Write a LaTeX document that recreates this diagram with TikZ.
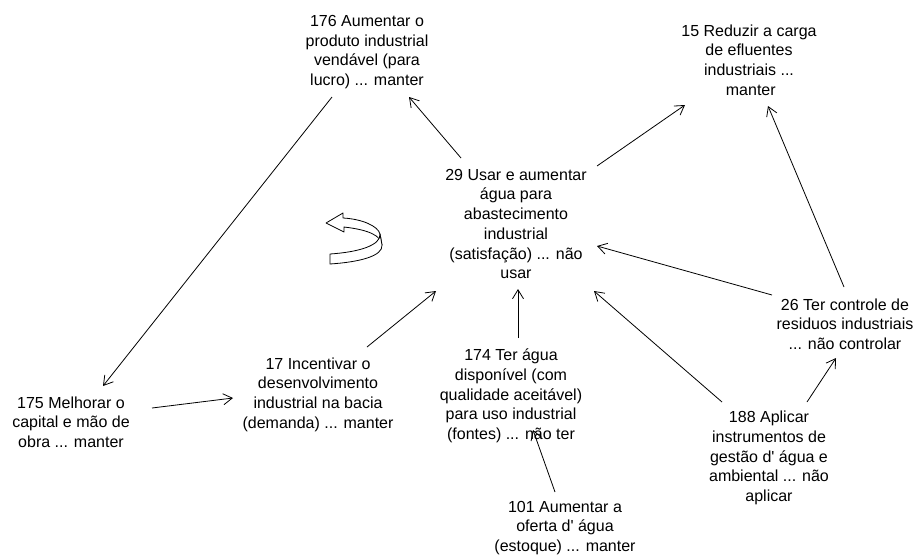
\documentclass[tikz,border=0pt]{standalone}
\usepackage{fontspec}
\newfontfamily\lsans{Liberation Sans}
\usetikzlibrary{arrows.meta}
\tikzset{
  lbl/.style={align=center, inner sep=0pt, font=\lsans\fontsize{16}{19.7}\selectfont},
  arr/.style={draw=black, line width=0.8pt, -{Straight Barb[length=9pt,width=11pt]}},
  loopsym/.style={draw=black, line width=0.8pt, fill=white, line join=round}
}
\begin{document}
\begin{tikzpicture}[x=1pt,y=-1pt]
\useasboundingbox (0,0) rectangle (920,555);
\fill[white] (0,0) rectangle (920,555);

\node[lbl] (n176) at (367,52) {176 Aumentar o\\produto industrial\\vendável (para\\lucro) ... manter};
\node[lbl] (n15) at (749,60) {15 Reduzir a carga\\de efluentes\\industriais ...\\\hphantom{i}manter};
\node[lbl] (n29) at (516,224) {29 Usar e aumentar\\água para\\abastecimento\\industrial\\(satisfação) ... não\\usar};
\node[lbl] (n175) at (71,422) {175 Melhorar o\\capital e mão de\\obra ... manter};
\node[lbl] (n17) at (318,394.5) {17 Incentivar o\\desenvolvimento\\industrial na bacia\\(demanda) ... manter};
\node[lbl] (n174) at (511,396) {174 Ter água\\disponível (com\\qualidade aceitável)\\para uso industrial\\(fontes) ... não ter};
\node[lbl] (n101) at (565,528) {101 Aumentar a\\oferta d' água\\(estoque) ... manter};
\node[lbl] (n26) at (845,324) {26 Ter controle de\\residuos industriais\\... não controlar};
\node[lbl] (n188) at (769,458) {188 Aplicar\\instrumentos de\\gestão d' água e\\ambiental ... não\\aplicar};

\draw[arr] ([shift={(-55,-66)}]n29.center) -- ([shift={(42,45)}]n176.center);
\draw[arr] ([shift={(81,-58)}]n29.center) -- ([shift={(-64,45)}]n15.center);
\draw[arr] ([shift={(-1,-37)}]n26.center) -- ([shift={(19,46)}]n15.center);
\draw[arr] ([shift={(-73,-29)}]n26.center) -- ([shift={(81,22)}]n29.center);
\draw[arr] ([shift={(-47,-56)}]n188.center) -- ([shift={(78,67)}]n29.center);
\draw[arr] ([shift={(38,-56)}]n188.center) -- ([shift={(-9,34)}]n26.center);
\draw[arr] ([shift={(49,-47.5)}]n17.center) -- ([shift={(-80,67)}]n29.center);
\draw[arr] ([shift={(7,-58)}]n174.center) -- ([shift={(2,65)}]n29.center);
\draw[arr] ([shift={(-10,-36)}]n101.center) -- ([shift={(22,34)}]n174.center);
\draw[arr] ([shift={(81,-14)}]n175.center) -- ([shift={(-85,3.5)}]n17.center);
\draw[arr] ([shift={(-35,45)}]n176.center) -- ([shift={(32,-36)}]n175.center);

% loop symbol
\draw[loopsym] (326,223) -- (343,213) -- (343,218) .. controls (362,219) and (378,226) .. (380,234)
  -- (382,245) .. controls (381,236) and (370,230) .. (344,227) -- (344,232) -- cycle;
\draw[loopsym] (380,234) .. controls (381,245) and (360,252) .. (330,254) -- (330,264)
  .. controls (360,262) and (383,256) .. (382,245) -- cycle;
\end{tikzpicture}
\end{document}
